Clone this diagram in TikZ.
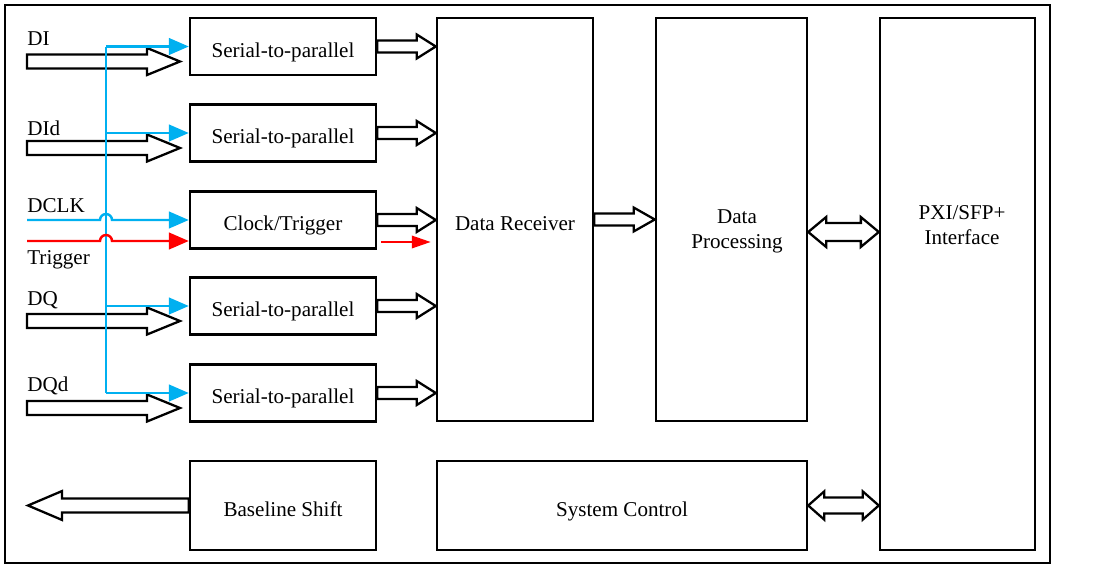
\documentclass[tikz,border=0pt]{standalone}
\usepackage{fontspec}
\setmainfont{Liberation Serif}
\usetikzlibrary{arrows.meta,calc}
\definecolor{busblue}{RGB}{0,176,240}
\tikzset{
	box/.style={draw, line width=1.4pt, inner sep=0pt, text height=12pt, text depth=0pt},
	s2p/.style={box, minimum width=3.72cm, minimum height=1.14cm},
	fat/.style={draw, line width=1.3pt, fill=white, line join=miter},
	bus/.style={busblue, line width=1.4pt},
	trig/.style={red, line width=1.4pt},
	tip/.style={-{Triangle[length=11.4pt,width=9.5pt]}},
	sig/.style={anchor=west, inner sep=0pt},
}
% hollow arrow: start, end, shaft half width, head half width, head length
\newcommand{\fatarrow}[5]{%
	\path[fat] let \p1=(#1), \p2=(#2) in
		(\x1,{\y1+#3}) -- ({\x2-(#5)},{\y1+#3}) -- ({\x2-(#5)},{\y1+#4}) -- (\x2,\y1)
		-- ({\x2-(#5)},{\y1-#4}) -- ({\x2-(#5)},{\y1-#3}) -- (\x1,{\y1-#3}) -- cycle;}
% hollow double arrow
\newcommand{\fatdarrow}[5]{%
	\path[fat] let \p1=(#1), \p2=(#2) in
		(\x1,\y1) -- ({\x1+#5},{\y1+#4}) -- ({\x1+#5},{\y1+#3}) -- ({\x2-#5},{\y1+#3})
		-- ({\x2-#5},{\y1+#4}) -- (\x2,\y1) -- ({\x2-#5},{\y1-#4}) -- ({\x2-#5},{\y1-#3})
		-- ({\x1+#5},{\y1-#3}) -- ({\x1+#5},{\y1-#4}) -- cycle;}
\begin{document}
\begin{tikzpicture}[x=0.02cm, y=-0.02cm, font=\fontsize{12}{14.2}\selectfont]
	\useasboundingbox (0,0) rectangle (1099,568);
	\draw[line width=1.4pt] (5,5) rectangle (1050,563);
	% blocks
	\node[s2p] (sp1) at (283,46.5) {Serial-to-parallel};
	\node[s2p] (sp2) at (283,133) {Serial-to-parallel};
	\node[s2p] (ct) at (283,220) {Clock/Trigger};
	\node[s2p] (sp4) at (283,306) {Serial-to-parallel};
	\node[s2p] (sp5) at (283,393) {Serial-to-parallel};
	\node[box, minimum width=3.12cm, minimum height=8.06cm, text height=13pt] (rx) at (515,219.5) {Data Receiver};
	\node[box, minimum width=3.02cm, minimum height=8.06cm] (dp) at (731.5,219.5) {};
	\node[align=center] (dptext) at (737,231) {Data\\Processing};
	\node[box, minimum width=3.1cm, minimum height=10.64cm] (pxi) at (957.5,284) {};
	\node[align=center] (pxitext) at (962,225.5) {PXI/SFP+\\Interface};
	\node[s2p, minimum height=1.78cm] (bs) at (283,505.5) {Baseline Shift};
	\node[box, minimum width=7.4cm, minimum height=1.78cm] (sc) at (622,505.5) {System Control};
	% inputs
	\coordinate (di) at (27,61.5);
	\coordinate (did) at (27,148);
	\coordinate (dclk) at (27,220);
	\coordinate (trg) at (27,241);
	\coordinate (dq) at (27,321);
	\coordinate (dqd) at (27,408);
	\coordinate (ae) at (180,0);
	\node[sig] (lbdi) at (27,39) {DI};
	\node[sig] (lbdid) at (27,128) {DId};
	\node[sig] (lbdclk) at (27,206) {DCLK};
	\node[sig] (lbtrg) at (27,260) {Trigger};
	\node[sig] (lbdq) at (27,300) {DQ};
	\node[sig] (lbdqd) at (27,386) {DQd};
	\foreach \s in {di,did,dq,dqd}
		\fatarrow{\s}{ae |- \s}{4pt}{7.7pt}{18.8pt};
	% clock bus
	\coordinate (bt) at (106,0);
	\draw[bus] (sp1.west -| bt) -- (sp5.west -| bt);
	\foreach \b in {sp1,sp2,sp4,sp5}
		\draw[bus,tip] (\b.west -| bt) -- (\b.west);
	\draw[bus,tip] (dclk) -- ($(dclk -| bt)+(-6,0)$) arc[start angle=180, end angle=360, radius=6] -- (ct.west);
	\draw[trig,tip] (trg) -- ($(trg -| bt)+(-6,0)$) arc[start angle=180, end angle=360, radius=6] -- (trg -| ct.west);
	% to the receiver
	\foreach \b in {sp1,sp2,ct,sp4,sp5}
		\fatarrow{\b.east}{\b.east -| rx.west}{3.4pt}{6.8pt}{10.8pt};
	\draw[trig,-{Triangle[length=10.8pt,width=7pt]}] ($(trg -| ct.east)+(4,1)$) -- ($(trg -| rx.west)+(-5,1)$);
	\fatarrow{rx.east}{rx.east -| dp.west}{3.4pt}{6.8pt}{12pt};
	\fatdarrow{$(dp.east)+(0,12.5)$}{$(dp.east -| pxi.west)+(0,12.5)$}{5.1pt}{8.5pt}{10.2pt};
	\fatdarrow{sc.east}{sc.east -| pxi.west}{4.5pt}{8pt}{9.1pt};
	\coordinate (bsout) at (28,505.5);
	\fatarrow{bs.west}{bsout}{4pt}{8.2pt}{-19.3pt};
\end{tikzpicture}
\end{document}
